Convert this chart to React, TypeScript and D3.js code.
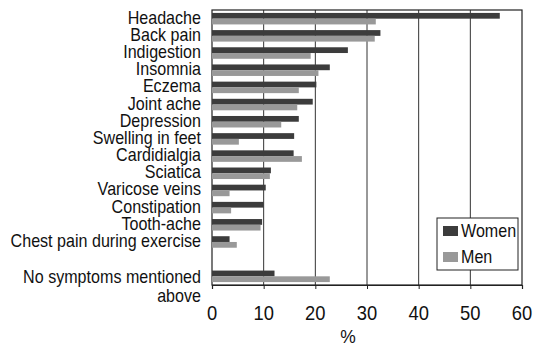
import React, { useEffect, useRef } from 'react';
import * as d3 from 'd3';

const categories = [
  'Headache',
  'Back pain',
  'Indigestion',
  'Insomnia',
  'Eczema',
  'Joint ache',
  'Depression',
  'Swelling in feet',
  'Cardidialgia',
  'Sciatica',
  'Varicose veins',
  'Constipation',
  'Tooth-ache',
  'Chest pain during exercise',
  '',
  'No symptoms mentioned|above',
];
const women = [55.7, 32.6, 26.3, 22.8, 20.2, 19.5, 16.8, 15.9, 15.8, 11.4, 10.4, 10.0, 9.7, 3.4, null, 12.1];
const men = [31.7, 31.5, 19.1, 20.6, 16.8, 16.5, 13.4, 5.2, 17.4, 11.2, 3.4, 3.7, 9.4, 4.8, null, 22.8];
const xTicks = [0, 10, 20, 30, 40, 50, 60];

const FONT = '"Liberation Sans", Arial, sans-serif';
const SQUEEZE = 0.92;

function App() {
  const ref = useRef(null);

  useEffect(() => {
    const svg = d3.select(ref.current);
    svg.selectAll('*').remove();

    const left = 212;
    const right = 522;
    const top = 10;
    const bottom = 285;

    const x = d3.scaleLinear().domain([0, 60]).range([left, right]);
    const y = d3
      .scaleBand()
      .domain(categories.map((_, i) => String(i)))
      .range([top, bottom])
      .paddingInner(0.33)
      .paddingOuter(0.17);
    const bw = y.bandwidth() / 2;

    // narrow text: place at (tx, ty) and squeeze horizontally
    const narrowText = (g, tx, ty, size, anchor) =>
      g
        .append('text')
        .attr('transform', `translate(${tx},${ty}) scale(${SQUEEZE},1)`)
        .attr('text-anchor', anchor)
        .attr('font-family', FONT)
        .attr('font-size', size)
        .attr('fill', '#111');

    // grid
    svg
      .append('g')
      .selectAll('line')
      .data(xTicks.slice(1, -1))
      .enter()
      .append('line')
      .attr('x1', (d) => x(d))
      .attr('x2', (d) => x(d))
      .attr('y1', top)
      .attr('y2', bottom)
      .attr('stroke', '#333')
      .attr('stroke-width', 1);

    // frame
    svg
      .append('rect')
      .attr('x', left)
      .attr('y', top)
      .attr('width', right - left)
      .attr('height', bottom - top)
      .attr('fill', 'none')
      .attr('stroke', '#222')
      .attr('stroke-width', 1.2);

    const rows = categories.map((c, i) => ({ c, i, w: women[i], m: men[i] }));

    svg
      .append('g')
      .selectAll('rect')
      .data(rows.filter((d) => d.w != null))
      .enter()
      .append('rect')
      .attr('x', left)
      .attr('y', (d) => y(String(d.i)))
      .attr('width', (d) => x(d.w) - left)
      .attr('height', bw)
      .attr('fill', '#3c3c3c');

    svg
      .append('g')
      .selectAll('rect')
      .data(rows.filter((d) => d.m != null))
      .enter()
      .append('rect')
      .attr('x', left)
      .attr('y', (d) => y(String(d.i)) + bw)
      .attr('width', (d) => x(d.m) - left)
      .attr('height', bw)
      .attr('fill', '#999');

    // bottom axis
    const ax = svg
      .append('g')
      .attr('transform', `translate(0,${bottom})`)
      .call(d3.axisBottom(x).tickValues(xTicks).tickSize(4).tickFormat(() => ''));
    ax.select('.domain').attr('stroke', '#222').attr('stroke-width', 1.2);
    ax.selectAll('line').attr('stroke', '#222');
    const tickG = svg.append('g');
    xTicks.forEach((t) => {
      narrowText(tickG, x(t), 320, 20, 'middle').text(t);
    });

    // category labels
    const labG = svg.append('g');
    rows.forEach((d) => {
      const lines = d.c.split('|');
      const base = y(String(d.i)) + y.bandwidth() / 2 + (lines.length > 1 ? 7 : 5);
      const t = narrowText(labG, 201, base, 17.5, 'end');
      lines.forEach((line, j) => {
        t.append('tspan')
          .attr('x', 0)
          .attr('dy', j === 0 ? 0 : 19)
          .text(line);
      });
    });

    narrowText(svg, 348, 343, 19, 'middle').text('%');

    // legend
    const lg = svg.append('g');
    lg.append('rect')
      .attr('x', 437)
      .attr('y', 218)
      .attr('width', 81)
      .attr('height', 52)
      .attr('fill', 'white')
      .attr('stroke', '#222')
      .attr('stroke-width', 1);
    const items = [
      { name: 'Women', color: '#3c3c3c' },
      { name: 'Men', color: '#999' },
    ];
    items.forEach((it, i) => {
      lg.append('rect')
        .attr('x', 443)
        .attr('y', 226 + i * 26)
        .attr('width', 15)
        .attr('height', 10)
        .attr('fill', it.color);
      narrowText(lg, 461, 237 + i * 26, 17.5, 'start').text(it.name);
    });
  }, []);

  return (
    <svg
      ref={ref}
      width={533}
      height={348}
      style={{ position: 'absolute', left: 0, top: 0, background: 'white' }}
    />
  );
}

export default App;
